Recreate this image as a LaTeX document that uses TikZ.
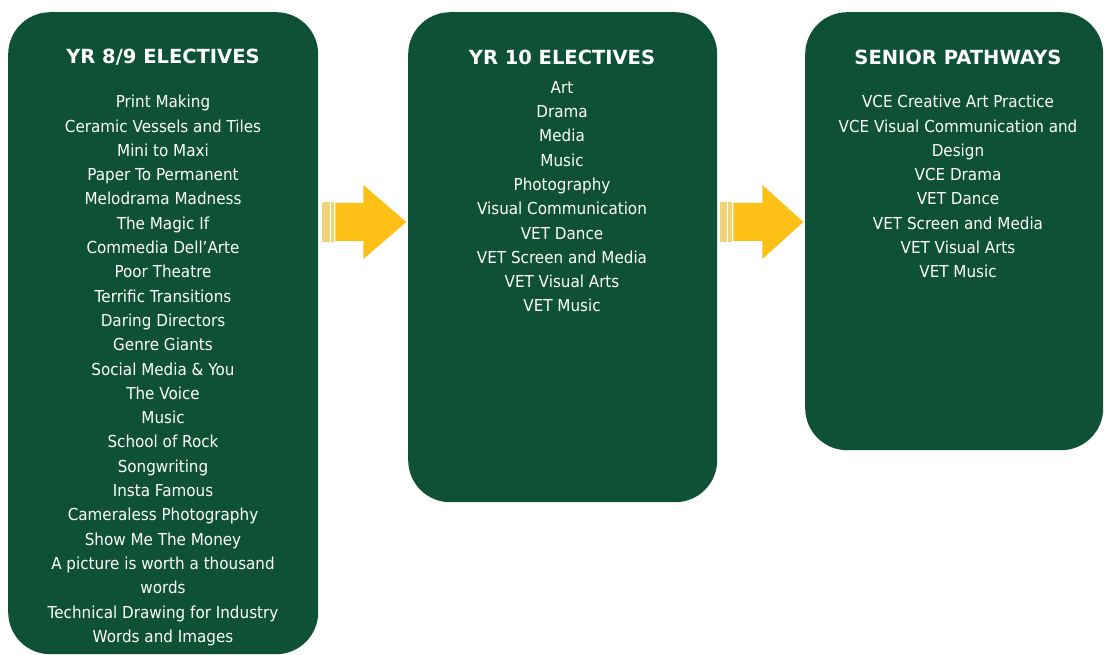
\documentclass[tikz,border=0pt]{standalone}
\usepackage{fontspec}
\setmainfont{DejaVu Sans}[FakeStretch=0.92]
\newfontfamily\titlefont{DejaVu Sans Bold}
\definecolor{boxgreen}{RGB}{15,81,54}
\definecolor{arrowyellow}{RGB}{253,192,23}
\definecolor{paleyellow}{RGB}{240,210,120}
\tikzset{
  panel/.style={fill=boxgreen, draw=none, rounded corners=42pt, inner sep=0pt, anchor=north west},
  paneltitle/.style={text=white, font=\titlefont\fontsize{19.5}{22}\selectfont, inner sep=0pt},
  panellist/.style={text=white, font=\fontsize{16.5}{24.3}\selectfont, align=center, inner sep=0pt, anchor=north},
  blockarrow/.style={fill=arrowyellow, draw=none},
  stripe/.style={fill=paleyellow, draw=none}
}
\begin{document}
\begin{tikzpicture}[x=1pt,y=-1pt]
\useasboundingbox (0,0) rectangle (1104,655);
% panels
\node[panel, minimum width=310pt, minimum height=642pt] (box1) at (8,12) {};
\node[panel, minimum width=309pt, minimum height=490pt] (box2) at (408,12) {};
\node[panel, minimum width=298pt, minimum height=438pt] (box3) at (805,12) {};
% titles
\node[paneltitle] (t1) at (163,57) {YR 8/9 ELECTIVES};
\node[paneltitle] (t2) at (562,57) {YR 10 ELECTIVES};
\node[paneltitle] (t3) at (958,57) {SENIOR PATHWAYS};
% lists
\node[panellist] (l1) at (163,95) {Print Making\\Ceramic Vessels and Tiles\\Mini to Maxi\\Paper To Permanent\\Melodrama Madness\\The Magic If\\Commedia Dell'Arte\\Poor Theatre\\Terrific Transitions\\Daring Directors\\Genre Giants\\Social Media \& You\\The Voice\\Music\\School of Rock\\Songwriting\\Insta Famous\\Cameraless Photography\\Show Me The Money\\A picture is worth a thousand\\words\\Technical Drawing for Industry\\Words and Images};
\node[panellist] (l2) at (562,81) {Art\\Drama\\Media\\Music\\Photography\\Visual Communication\\VET Dance\\VET Screen and Media\\VET Visual Arts\\VET Music};
\node[panellist] (l3) at (958,95) {VCE Creative Art Practice\\VCE Visual Communication and\\Design\\VCE Drama\\VET Dance\\VET Screen and Media\\VET Visual Arts\\VET Music};
% arrows between panels
\coordinate (a1) at (box1.east |- 0,222);
\coordinate (a2) at (box2.east |- 0,222);
\fill[stripe] ([xshift=4pt]a1) ++(0,-20) rectangle ++(8,40);
\fill[stripe] ([xshift=13pt]a1) ++(0,-20) rectangle ++(3,40);
\fill[blockarrow] ([xshift=17pt]a1) ++(0,-19) -- ++(28,0) -- ++(0,-18) -- ++(43,37) -- ++(-43,37) -- ++(0,-18) -- ++(-28,0) -- cycle;
\fill[stripe] ([xshift=3pt]a2) ++(0,-20) rectangle ++(7,40);
\fill[stripe] ([xshift=11pt]a2) ++(0,-20) rectangle ++(4,40);
\fill[blockarrow] ([xshift=16pt]a2) ++(0,-19) -- ++(29,0) -- ++(0,-18) -- ++(41,37) -- ++(-41,37) -- ++(0,-18) -- ++(-29,0) -- cycle;
\end{tikzpicture}
\end{document}
